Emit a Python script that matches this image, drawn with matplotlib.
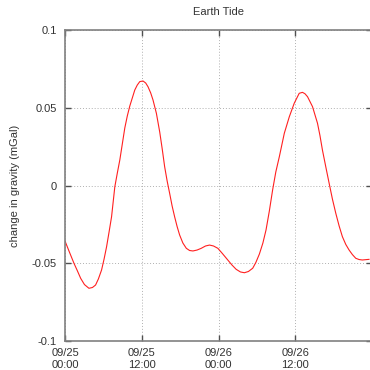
import matplotlib
matplotlib.use("Agg")
import matplotlib.pyplot as plt
import matplotlib.dates as mdates
import pandas as pd

# hours after 09/25 00:00 and change in gravity (mGal)
hours = [0.0, 0.62, 1.40, 1.95, 2.45, 3.04, 3.74, 4.29, 4.78, 5.22, 5.72,
         6.11, 6.50, 6.89, 7.28, 7.79, 8.18, 8.57, 8.96, 9.35, 9.74, 10.13,
         10.91, 11.30, 11.69, 12.20, 12.62, 12.98, 13.40, 13.76, 14.29,
         14.81, 15.20, 15.58, 15.97, 16.36, 16.75, 17.14, 17.53, 17.92,
         18.43, 18.97, 19.48, 20.0, 20.65, 21.30, 21.97, 22.6, 23.22, 23.9,
         24.6, 25.45, 26.1, 26.76, 27.43, 28.05, 28.68, 29.35, 29.84, 30.39,
         30.94, 31.43, 31.95, 32.46, 32.96, 33.51, 34.29, 35.07, 35.84,
         36.62, 37.13, 37.52, 37.92, 38.70, 39.48, 39.86, 40.25, 40.78,
         41.30, 41.81, 42.34, 42.86, 43.37, 43.90, 44.42, 44.93, 45.46,
         45.97, 46.48, 47.53]
gravity = [-0.0357, -0.0421, -0.0500, -0.0550, -0.0597, -0.0637, -0.0661,
           -0.0656, -0.0640, -0.0601, -0.0543, -0.0473, -0.0394, -0.0299,
           -0.0201, -0.0008, 0.0080, 0.0164, 0.0267, 0.0370, 0.0447, 0.0511,
           0.0614, 0.0646, 0.0668, 0.0672, 0.0659, 0.0635, 0.0595, 0.0550,
           0.0464, 0.0344, 0.0235, 0.0121, 0.0029, -0.0050, -0.0132,
           -0.0201, -0.0264, -0.0318, -0.0370, -0.0404, -0.0418, -0.0421,
           -0.0415, -0.0404, -0.0389, -0.0383, -0.0389, -0.0404, -0.0437,
           -0.0479, -0.0511, -0.0539, -0.0556, -0.0561, -0.0553, -0.0532,
           -0.0495, -0.0441, -0.0370, -0.0286, -0.0164, -0.0029, 0.0087,
           0.0185, 0.0336, 0.0442, 0.0529, 0.0593, 0.0599, 0.0590, 0.0571,
           0.0507, 0.0400, 0.0322, 0.0228, 0.0119, 0.0014, -0.0087, -0.0179,
           -0.0260, -0.0329, -0.0379, -0.0415, -0.0444, -0.0468, -0.0476,
           -0.0479, -0.0475]
y_ticks = [-0.1, -0.05, 0, 0.05, 0.1]
y_tick_labels = ['-0.1', '-0.05', '0', '0.05', '0.1']

start = pd.Timestamp('2013-09-25 00:00')
times = start + pd.to_timedelta(hours, unit='h')
x_ticks = [start + pd.Timedelta(hours=h) for h in (0, 12, 24, 36)]

plt.rcParams['font.family'] = ['Liberation Sans', 'DejaVu Sans']
plt.rcParams['axes.unicode_minus'] = False
txt = '#333333'

fig = plt.figure(figsize=(3.7, 3.7), dpi=100)
ax = fig.add_axes([65 / 370, 29 / 370, 307 / 370, 311 / 370])

ax.plot(times, gravity, color='#ff2020', lw=0.8)

ax.set_xlim(start, start + pd.Timedelta(hours=48))
ax.set_ylim(-0.1, 0.1)
ax.set_xticks(x_ticks)
ax.xaxis.set_major_formatter(mdates.DateFormatter('%m/%d\n%H:%M'))
ax.set_yticks(y_ticks)
ax.set_yticklabels(y_tick_labels)

ax.grid(True, color='#b0b0b0', linestyle=(0, (1, 2)), lw=0.7)
for s in ax.spines.values():
    s.set_color('#808080')
    s.set_linewidth(1.2)
ax.tick_params(direction='in', length=4, width=1, color='#505050',
               top=True, right=True, labelsize=8, labelcolor=txt, pad=6)
ax.tick_params(axis='x', pad=5)

ax.set_title('Earth Tide', fontsize=8, color=txt, pad=11)
ax.set_ylabel('change in gravity (mGal)', fontsize=8, color=txt, labelpad=8)

fig.canvas.draw()
for lab in ax.get_xticklabels():
    lab.set_linespacing(1.3)

fig.savefig('out.png', dpi=100)
